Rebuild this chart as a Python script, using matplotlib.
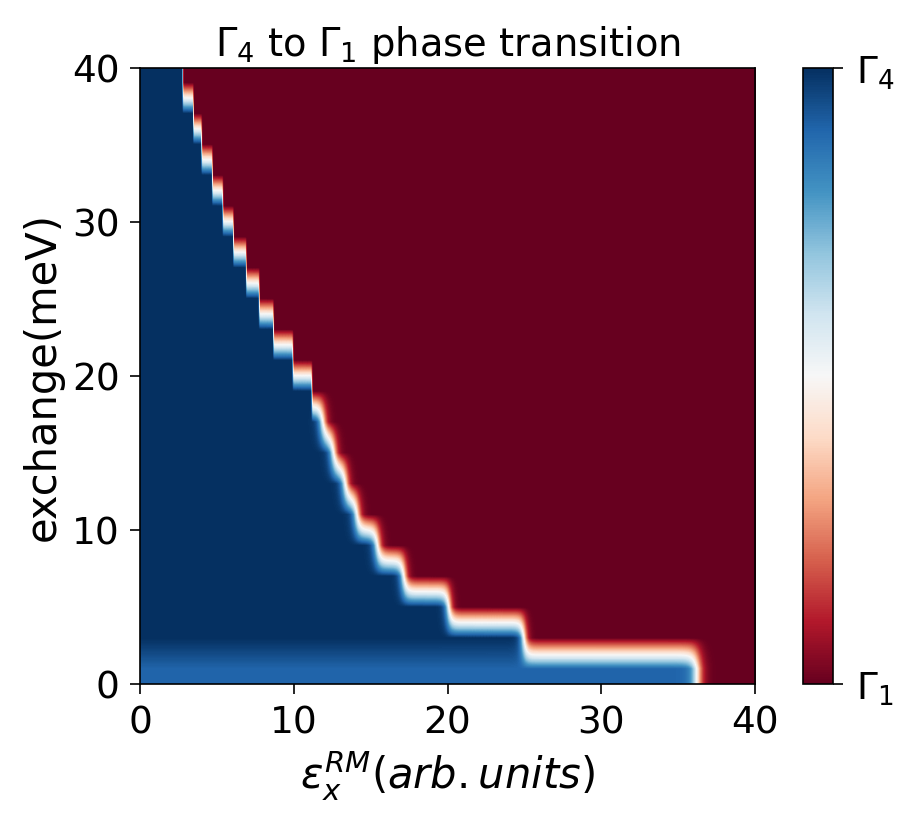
import numpy as np
import matplotlib
matplotlib.use('Agg')
import matplotlib.pyplot as plt

# exchange (meV) row centres of the computed grid
exchange = [1, 3, 5, 7, 9, 11, 13, 15, 17, 19, 21, 23, 25, 27, 29, 31, 33, 35, 37, 39]
# epsilon where the ground state switches from Gamma4 to Gamma1, per row
x_switch = [36.2, 24.93, 20.05, 17.13, 15.42, 14.09, 13.33, 12.57, 11.87, 11.17,
            9.93, 8.67, 7.74, 6.90, 6.07, 5.38, 4.70, 4.01, 3.47, 2.78]
# how soft the switch is, per row (arb. units)
x_soft = [0.22, 0.15, 0.15, 0.16, 0.17, 0.17, 0.17, 0.17, 0.17, 0.01,
          0.01, 0.01, 0.01, 0.01, 0.01, 0.01, 0.01, 0.01, 0.01, 0.01]
# level on the Gamma4 side
gamma4_level = [0.9] + [1.0] * 19

eps = np.linspace(0, 40, 801)
eps = 0.5 * (eps[:-1] + eps[1:])

grid = np.zeros((len(exchange), len(eps)))
for i in range(len(exchange)):
    grid[i] = gamma4_level[i] / (1 + np.exp((eps - x_switch[i]) / x_soft[i]))

fig = plt.figure(figsize=(6.08, 5.4933), dpi=150)
ax = fig.add_axes([0.1535, 0.1687, 0.6744, 0.7476])
im = ax.imshow(grid, cmap='RdBu', vmin=0, vmax=1, origin='lower',
               extent=[0, 40, 0, 40], aspect='auto',
               interpolation='bilinear', interpolation_stage='data')
ax.set_xticks([0, 10, 20, 30, 40])
ax.set_yticks([0, 10, 20, 30, 40])
ax.tick_params(labelsize=18, length=4.8, pad=5)
ax.set_xlabel(r'$\epsilon_x^{RM}(arb.units)$', fontsize=20)
ax.set_ylabel('exchange(meV)', fontsize=20)
ax.set_title(r'$\Gamma_4$ to $\Gamma_1$ phase transition', fontsize=18.5)

cax = fig.add_axes([0.8805, 0.1687, 0.0329, 0.7476])
cb = fig.colorbar(im, cax=cax, ticks=[0, 1])
cb.ax.set_yticklabels([r'$\Gamma_1$', r'$\Gamma_4$'])
cb.ax.tick_params(labelsize=18, length=4.8, pad=6)

fig.savefig('out.png', dpi=150)
